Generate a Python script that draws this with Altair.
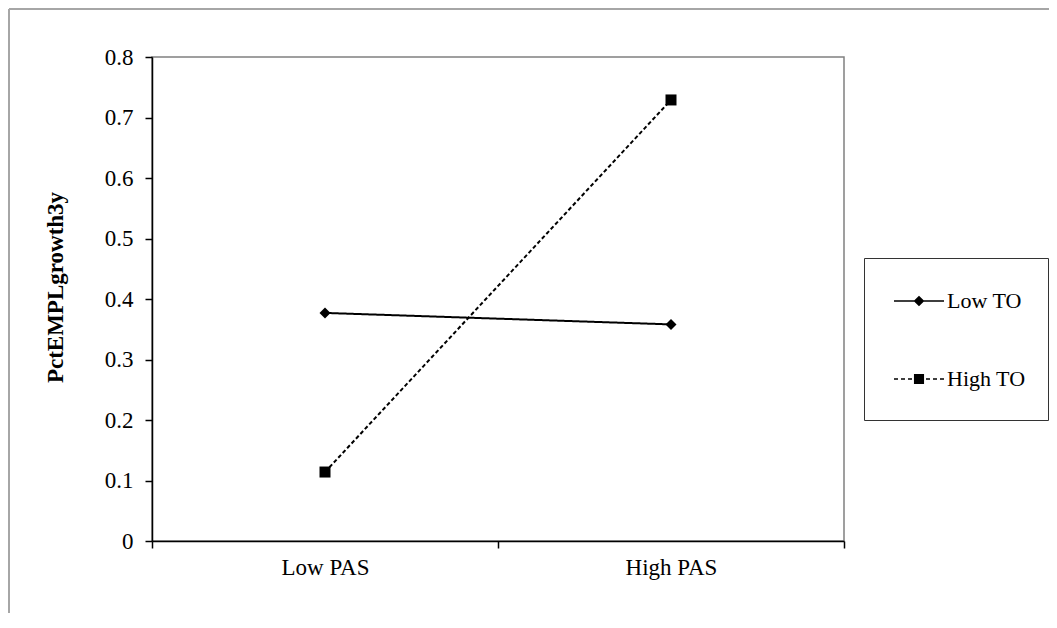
import altair as alt
import pandas as pd

# ---- data ----
categories = ["Low PAS", "High PAS"]
series = ["Low TO", "High TO"]
low_to = [0.377, 0.358]
high_to = [0.114, 0.729]
y_ticks = [0, 0.1, 0.2, 0.3, 0.4, 0.5, 0.6, 0.7, 0.8]

rows = []
for s, vals in zip(series, [low_to, high_to]):
    for c, v in zip(categories, vals):
        rows.append({"PAS": c, "TO": s, "value": v})
df = pd.DataFrame(rows)

FONT = "Liberation Serif"
FS = 23

# custom legend glyphs (unit = 20 px): a line with the marker on it
legend_paths = [
    "M-1.25,0H1.25M0,-0.215L0.215,0L0,0.215L-0.215,0Z",
    "M-1.25,0H-1.05M-0.9,0H-0.7M-0.55,0H-0.35M0.35,0H0.55M0.7,0H0.9M1.05,0H1.25"
    "M-0.215,-0.215H0.215V0.215H-0.215Z",
]

x = alt.X(
    "PAS:N",
    sort=categories,
    scale=alt.Scale(type="band", paddingInner=0, paddingOuter=0),
    axis=alt.Axis(
        title=None, labelAngle=0, tickBand="extent", ticks=True, tickSize=7,
        tickColor="black", tickWidth=1.5, domainColor="black", domainWidth=1.5,
        labelFont=FONT, labelFontSize=FS, labelColor="black", labelPadding=8,
        grid=False,
    ),
)
y = alt.Y(
    "value:Q",
    scale=alt.Scale(domain=[0, 0.8], nice=False, zero=True),
    axis=alt.Axis(
        values=y_ticks, format="~g", title="PctEMPLgrowth3y",
        titleFont=FONT, titleFontSize=23, titleFontWeight="bold", titleColor="black",
        titleAngle=270, titleX=-97, titleY=230, titleAlign="center", titleBaseline="middle",
        tickSize=7, tickColor="black", tickWidth=1.5, domainColor="black", domainWidth=1.5,
        labelFont=FONT, labelFontSize=FS, labelColor="black", labelPadding=12,
        grid=False,
    ),
)

base = alt.Chart(df)

lines = base.mark_line(color="black", strokeWidth=2).encode(
    x=x, y=y,
    strokeDash=alt.StrokeDash(
        "TO:N", sort=series,
        scale=alt.Scale(domain=series, range=[[1, 0], [4, 2.5]]), legend=None,
    ),
    detail="TO:N",
)

points = base.mark_point(filled=True, color="black", opacity=1, size=121).encode(
    x=x, y=y,
    shape=alt.Shape(
        "TO:N", sort=series,
        scale=alt.Scale(domain=series, range=["diamond", "square"]), legend=None,
    ),
)

legend_layer = base.mark_point(
    filled=False, color="black", fill="black", stroke="black", strokeWidth=1.5,
    opacity=1, size=1600, clip=True,
).encode(
    x=alt.value(-300), y=alt.value(-300),
    shape=alt.Shape(
        "TO:N", sort=series,
        scale=alt.Scale(domain=series, range=legend_paths),
        legend=alt.Legend(
            title=" ", titleOrient="bottom", titleFontSize=1, titlePadding=7,
            orient="none", legendX=712, legendY=201, direction="vertical",
            padding=22, strokeColor="#333333", fillColor="white",
            labelFont=FONT, labelFontSize=22, labelColor="black",
            symbolSize=1600, symbolOffset=12, labelOffset=7, rowPadding=46,
            symbolStrokeWidth=1.5,
        ),
    ),
)

frame_data = alt.Chart(pd.DataFrame({"f": [0]}))
frame_left = frame_data.mark_rule(color="#a6a6a6", strokeWidth=2).encode(
    x=alt.value(-143), y=alt.value(-48), y2=alt.value(600)
)
frame_top = frame_data.mark_rule(color="#a6a6a6", strokeWidth=2).encode(
    x=alt.value(-143), x2=alt.value(897), y=alt.value(-48)
)

chart = (
    alt.layer(frame_left, frame_top, lines, points, legend_layer)
    .resolve_scale(shape="independent")
    .properties(
        width=692, height=484,
        autosize=alt.AutoSizeParams(type="none"),
        padding={"left": 144, "top": 49, "right": 205, "bottom": 72},
        background="white",
    )
    .configure_view(stroke="#808080", strokeWidth=1.5)
)

chart.save("out.html", embed_options={"renderer": "svg", "actions": False})
